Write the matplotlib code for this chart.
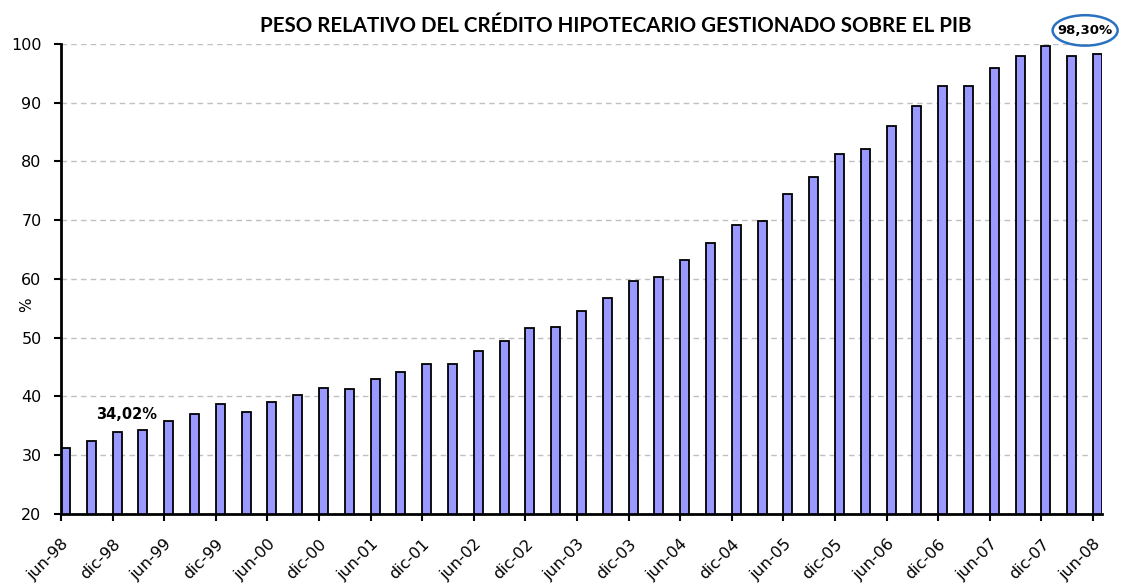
import numpy as np
import matplotlib
matplotlib.use('Agg')
import matplotlib.pyplot as plt
from matplotlib.patches import Ellipse

# quarterly data, jun-98 .. jun-08
month_names = {3: 'mar', 6: 'jun', 9: 'sep', 12: 'dic'}
labels = []
for i in range(41):
    month = 6 + 3 * i
    year = 1998 + (month - 1) // 12
    m = (month - 1) % 12 + 1
    labels.append('%s-%02d' % (month_names[m], year % 100))

values = [31.3, 32.5, 34.02, 34.3, 35.8, 37.0, 38.7, 37.3, 39.0, 40.3,
          41.5, 41.2, 43.0, 44.1, 45.6, 45.6, 47.7, 49.5, 51.6, 51.9,
          54.6, 56.7, 59.7, 60.3, 63.3, 66.2, 69.2, 69.9, 74.4, 77.4,
          81.2, 82.1, 86.0, 89.4, 92.9, 92.9, 95.9, 98.0, 99.7, 98.0,
          98.3]

title = 'PESO RELATIVO DEL CRÉDITO HIPOTECARIO GESTIONADO SOBRE EL PIB'

fig = plt.figure(figsize=(11.21, 5.85), dpi=100)
ax = fig.add_axes([0.0544, 0.1214, 0.9286, 0.8034])

x = np.arange(len(values))
bar_w = 0.35
ax.bar(x, values, width=bar_w, align='edge', color='#9999ff',
       edgecolor='black', linewidth=1.3, zorder=3)

ax.set_ylim(20, 100)
ax.set_xlim(0, len(values) - 1 + bar_w)
ax.set_yticks(range(20, 101, 10))
ax.set_xticks(x[::2])
ax.set_xticklabels(labels[::2], rotation=45, ha='right', rotation_mode='anchor',
                   fontsize=11.5, family='DejaVu Sans')
for t in ax.get_yticklabels():
    t.set_fontsize(11.5)
ax.tick_params(axis='both', direction='out', length=5, width=1.5, color='black')
ax.tick_params(axis='x', pad=11)
ax.tick_params(axis='y', pad=9)

ax.yaxis.grid(True, linestyle=(0, (4, 3)), color='#c0c0c0', linewidth=1, zorder=0)
ax.set_axisbelow(True)
for s in ['top', 'right']:
    ax.spines[s].set_visible(False)
for s in ['left', 'bottom']:
    ax.spines[s].set_linewidth(2)
    ax.spines[s].set_zorder(4)

ax.set_ylabel('%', fontsize=11)
ax.yaxis.set_label_coords(-0.026, 0.445)

fig.text(0.549, 0.955, title, ha='center', va='center', fontsize=14.8,
         fontweight='bold', family='Lato')

# annotations
ax.text(2.55, 37.0, '34,02%', ha='center', va='center', fontsize=10.5,
        fontweight='bold', family='DejaVu Sans')

fig.text(0.968, 0.948, '98,30%', ha='center', va='center', fontsize=9.5,
         fontweight='bold', family='DejaVu Sans')
ell = Ellipse((0.968, 0.948), 0.058, 0.052, transform=fig.transFigure,
              fill=False, edgecolor='#2a72c0', linewidth=1.8)
fig.patches.append(ell)

fig.savefig('out.png', dpi=100)
